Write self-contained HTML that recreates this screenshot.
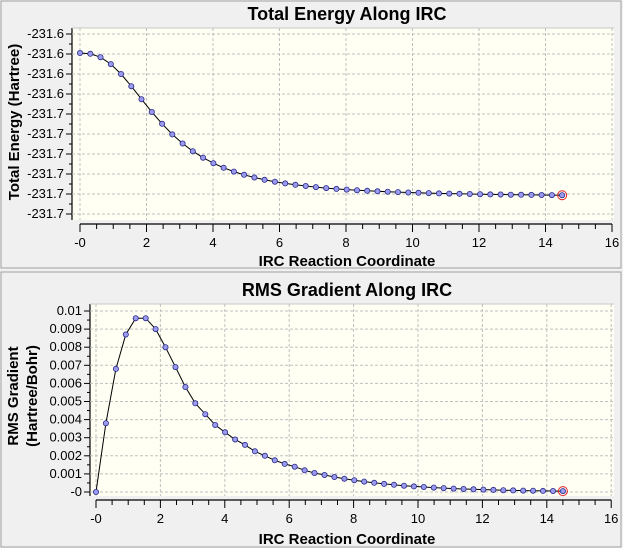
<!DOCTYPE html>
<html><head><meta charset="utf-8"><style>
html,body{margin:0;padding:0;background:#f0f0f0;}
svg{display:block;font-family:"Liberation Sans",Arial,sans-serif;}
</style></head><body>
<svg id="s" width="623" height="548" xmlns="http://www.w3.org/2000/svg">
<rect x="0" y="0" width="623" height="548" fill="#f0f0f0"/>
<rect x="1" y="1" width="620" height="267" fill="#f0f0f0" stroke="#a0a0a0"/>
<rect x="1" y="272" width="620" height="275" fill="#f0f0f0" stroke="#a0a0a0"/>
<text x="347" y="20" font-size="18" font-weight="bold" text-anchor="middle">Total Energy Along IRC</text>
<text x="347" y="296" font-size="18" font-weight="bold" text-anchor="middle">RMS Gradient Along IRC</text>
<text x="347" y="266" font-size="15" font-weight="bold" text-anchor="middle">IRC Reaction Coordinate</text>
<text x="347" y="544" font-size="15" font-weight="bold" text-anchor="middle">IRC Reaction Coordinate</text>
<text transform="translate(19,122) rotate(-90)" font-size="15" font-weight="bold" text-anchor="middle">Total Energy (Hartree)</text>
<text transform="translate(18,396) rotate(-90)" font-size="15" font-weight="bold" text-anchor="middle">RMS Gradient</text>
<text transform="translate(37,396) rotate(-90)" font-size="15" font-weight="bold" text-anchor="middle">(Hartree/Bohr)</text>
<g id="g"></g>
</svg>
<script>
var g=document.getElementById('g'),h='';
function L(x1,y1,x2,y2,st){h+='<line x1="'+x1+'" y1="'+y1+'" x2="'+x2+'" y2="'+y2+'" '+st+'/>';}
function T(x,y,t,a){h+='<text x="'+x+'" y="'+y+'" font-size="13" text-anchor="'+a+'">'+t+'</text>';}
function panel(o){
 h+='<rect x="'+o.l+'" y="'+o.t+'" width="'+(o.r-o.l)+'" height="'+(o.b-o.t)+'" fill="#fffff4"/>';
 L(o.l,o.t,o.l,o.b,'stroke="#000" stroke-width="1.2"');
 L(o.l,o.t,o.r,o.t,'stroke="#c8c8c8"');
 for(var i=0;i<=16;i+=2){var x=o.x0+i*o.sx;L(x,o.t,x,o.b,'stroke="#c0c0c0" stroke-dasharray="3,2"');}
 for(var j=0;j<o.yl.length;j++){var y=o.y0+j*o.sy;L(o.l,y,o.r,y,'stroke="#c0c0c0" stroke-dasharray="3,2"');
  L(o.l-6,y,o.l,y,'stroke="#000"');T(o.l-8,y+4,o.yl[j],'end');
  if(j<o.yl.length-1){L(o.l-3,y+o.sy/2,o.l,y+o.sy/2,'stroke="#000"');}}
 L(o.x0,o.ax,o.x0+16*o.sx,o.ax,'stroke="#000" stroke-width="1.2"');
 for(var k=0;k<=32;k++){var x=o.x0+k*o.sx/2;L(x,o.ax,x,o.ax+(k%4==0?8:5),'stroke="#000"');
  if(k%4==0)T(x,o.ax+23,(k==0?'-0':k/2),'middle');}
 var p='';for(var m=0;m<o.pts.length;m++)p+=o.pts[m][0].toFixed(1)+','+o.pts[m][1].toFixed(1)+' ';
 h+='<polyline points="'+p+'" fill="none" stroke="#000" stroke-width="1"/>';
 for(var m=0;m<o.pts.length;m++)h+='<circle cx="'+o.pts[m][0].toFixed(1)+'" cy="'+o.pts[m][1].toFixed(1)+'" r="2.6" fill="#9a9aee" stroke="#2a2a8a" stroke-width="0.8"/>';
 var lp=o.pts[o.pts.length-1];h+='<circle cx="'+lp[0]+'" cy="'+lp[1]+'" r="4.5" fill="none" stroke="#e02020" stroke-width="1"/>';
}
var N=48,st=14.5/(N-1);
var e=[];for(var i=0;i<N;i++){var x=i*st;var gg=1/(1+Math.pow(x/2.5,2.5));var y=197-144*gg; if(i==0)y=53;e.push([80+x*33.25,y]);}
panel({l:72,r:614,t:28,b:220,x0:80,sx:33.25,y0:34,sy:20,ax:224,
 yl:['-231.6','-231.6','-231.6','-231.6','-231.7','-231.7','-231.7','-231.7','-231.7','-231.7'],pts:e});
var gv=[0,0.0038,0.0068,0.0087,0.0096,0.0096,0.009,0.008,0.0069,0.0058,0.0049,0.0043,0.0037,0.0033,0.0029,0.0026,0.00225,0.002,0.00175,0.00155,0.0014,0.0012,0.00105];
var r=[];for(var i=0;i<N;i++){var x=i*st;var v=i<gv.length?gv[i]:0.00105*Math.exp(-(x-6.82)/2.5);r.push([96+x*32.2,492-v*18100]);}
panel({l:90,r:614,t:304,b:496,x0:96,sx:32.2,y0:311,sy:18.1,ax:500,
 yl:['0.01','0.009','0.008','0.007','0.006','0.005','0.004','0.003','0.002','0.001','-0'],pts:r});
g.innerHTML=h;
</script>
</body></html>
